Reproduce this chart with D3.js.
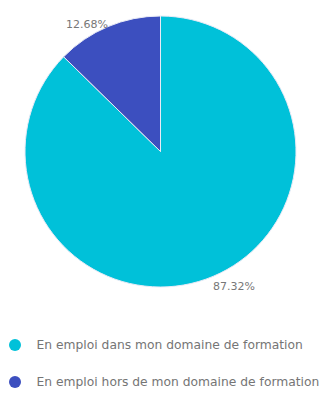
<!DOCTYPE html>
<html>
<head>
<meta charset="utf-8">
<script src="https://cdn.jsdelivr.net/npm/d3@7"></script>
<style>
  html, body { margin: 0; padding: 0; background: #fff; }
  svg { display: block; font-family: "DejaVu Sans", sans-serif; }
</style>
</head>
<body>
<svg id="chart" width="330" height="401"></svg>
<script>
const categories = [
  "En emploi dans mon domaine de formation",
  "En emploi hors de mon domaine de formation"
];
const values = [87.32, 12.68];
const colors = ["#00c1d9", "#3c4fbf"];

const svg = d3.select("#chart");
const cx = 160.5, cy = 151.5, r = 135.5;

const pie = d3.pie().sort(null).value(d => d);
const arcs = pie(values);
const arc = d3.arc().innerRadius(0).outerRadius(r);

const g = svg.append("g").attr("transform", `translate(${cx},${cy})`);

g.selectAll("path")
  .data(arcs)
  .join("path")
  .attr("d", arc)
  .attr("fill", (d, i) => colors[i])
  .attr("stroke", "#e8eaf6")
  .attr("stroke-width", 1);

// percentage labels sit on the rim at each slice's mid-angle
g.selectAll("text.pct")
  .data(arcs)
  .join("text")
  .attr("class", "pct")
  .each(function(d) {
    const a = (d.startAngle + d.endAngle) / 2;
    const x = Math.sin(a) * r, y = -Math.cos(a) * r;
    const t = d3.select(this).attr("x", x).attr("y", y);
    t.attr("text-anchor", x < 0 ? "end" : "start")
     .attr("dy", y < 0 ? "0.08em" : "1.24em");
  })
  .attr("font-size", 11)
  .attr("fill", "#777")
  .text(d => d.data.toFixed(2) + "%");

// legend
const legend = svg.append("g")
  .selectAll("g")
  .data(categories)
  .join("g")
  .attr("transform", (d, i) => `translate(15,${345 + i * 37})`);

legend.append("circle")
  .attr("r", 6)
  .attr("fill", (d, i) => colors[i]);

legend.append("text")
  .attr("x", 21.5)
  .attr("dy", "0.35em")
  .attr("font-size", 12.3)
  .attr("fill", "#757575")
  .text(d => d);
</script>
</body>
</html>
